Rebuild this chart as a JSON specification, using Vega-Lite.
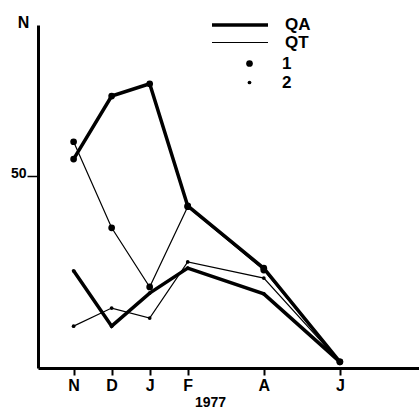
{
  "$schema": "https://vega.github.io/schema/vega-lite/v6.json",
  "width": 381,
  "height": 343,
  "autosize": {"type": "none"},
  "padding": {"left": 38, "top": 25, "right": 0, "bottom": 40},
  "background": "white",
  "config": {"view": {"stroke": null}, "font": "Liberation Sans"},
  "data": {
    "values": [
      {"m": 0, "v": 54.4, "q": "QA", "g": "1"},
      {"m": 1, "v": 70.8, "q": "QA", "g": "1"},
      {"m": 2, "v": 74.0, "q": "QA", "g": "1"},
      {"m": 3, "v": 42.2, "q": "QA", "g": "1"},
      {"m": 5, "v": 26.0, "q": "QA", "g": "1"},
      {"m": 7, "v": 1.6, "q": "QA", "g": "1"},
      {"m": 0, "v": 58.9, "q": "QT", "g": "1"},
      {"m": 1, "v": 36.5, "q": "QT", "g": "1"},
      {"m": 2, "v": 21.1, "q": "QT", "g": "1"},
      {"m": 3, "v": 42.0, "q": "QT", "g": "1"},
      {"m": 5, "v": 25.5, "q": "QT", "g": "1"},
      {"m": 7, "v": 1.6, "q": "QT", "g": "1"},
      {"m": 0, "v": 25.3, "q": "QA", "g": "2"},
      {"m": 1, "v": 10.9, "q": "QA", "g": "2"},
      {"m": 2, "v": 19.5, "q": "QA", "g": "2"},
      {"m": 3, "v": 26.0, "q": "QA", "g": "2"},
      {"m": 5, "v": 19.3, "q": "QA", "g": "2"},
      {"m": 7, "v": 1.6, "q": "QA", "g": "2"},
      {"m": 0, "v": 10.9, "q": "QT", "g": "2"},
      {"m": 1, "v": 15.6, "q": "QT", "g": "2"},
      {"m": 2, "v": 13.0, "q": "QT", "g": "2"},
      {"m": 3, "v": 27.6, "q": "QT", "g": "2"},
      {"m": 5, "v": 23.4, "q": "QT", "g": "2"},
      {"m": 7, "v": 1.6, "q": "QT", "g": "2"}
    ]
  },
  "encoding": {
    "x": {
      "field": "m",
      "type": "quantitative",
      "scale": {"domain": [-0.936, 9.08], "nice": false, "zero": false},
      "axis": {
        "values": [0, 1, 2, 3, 5, 7],
        "labelExpr": "datum.value == 0 ? 'N' : datum.value == 1 ? 'D' : datum.value == 2 ? 'J' : datum.value == 3 ? 'F' : datum.value == 5 ? 'A' : 'J'",
        "grid": false,
        "domainColor": "black",
        "domainWidth": 3,
        "tickColor": "black",
        "tickWidth": 2,
        "tickSize": 7,
        "labelFontSize": 16,
        "labelFontWeight": "bold",
        "labelColor": "black",
        "labelPadding": 2,
        "title": "1977",
        "titleFontSize": 14,
        "titleFontWeight": "bold",
        "titleColor": "black",
        "titleX": 172,
        "titleY": 38,
        "titleBaseline": "alphabetic",
        "titleAlign": "center"
      }
    },
    "y": {
      "field": "v",
      "type": "quantitative",
      "scale": {"domain": [0, 89.3], "nice": false},
      "axis": {
        "values": [50],
        "grid": false,
        "domainColor": "black",
        "domainWidth": 3,
        "tickColor": "black",
        "tickWidth": 1.5,
        "tickSize": 11,
        "labelFontSize": 14,
        "labelFontWeight": "bold",
        "labelColor": "black",
        "labelPadding": 1,
        "labelBaseline": "alphabetic",
        "labelOffset": 2,
        "title": "N",
        "titleAngle": 0,
        "titleFontSize": 16,
        "titleFontWeight": "bold",
        "titleColor": "black",
        "titleX": -15,
        "titleY": 2,
        "titleAlign": "center",
        "titleBaseline": "alphabetic"
      }
    }
  },
  "layer": [
    {
      "mark": {"type": "line", "color": "black"},
      "encoding": {
        "detail": {"field": "g"},
        "strokeWidth": {
          "field": "q",
          "type": "ordinal",
          "scale": {"domain": ["QA", "QT"], "range": [3.5, 1.2]},
          "legend": {
            "title": null,
            "orient": "none",
            "legendX": 193,
            "legendY": -9,
            "padding": 0,
            "symbolType": "M-4,0H4",
            "symbolSize": 196,
            "symbolStrokeColor": "black",
            "labelFontSize": 17,
            "labelFontWeight": "bold",
            "labelColor": "black",
            "labelOffset": 36,
            "rowPadding": 0
          }
        }
      }
    },
    {
      "mark": {"type": "point", "filled": true, "color": "black", "opacity": 1},
      "encoding": {
        "detail": {"field": "q"},
        "size": {
          "field": "g",
          "type": "ordinal",
          "scale": {"domain": ["1", "2"], "range": [45, 14]},
          "legend": {
            "title": null,
            "orient": "none",
            "legendX": 203,
            "legendY": 30,
            "padding": 0,
            "symbolFillColor": "black",
            "symbolStrokeWidth": 0,
            "symbolType": "circle",
            "labelFontSize": 17,
            "labelFontWeight": "bold",
            "labelColor": "black",
            "labelOffset": 24,
            "rowPadding": 1
          }
        }
      }
    }
  ]
}
